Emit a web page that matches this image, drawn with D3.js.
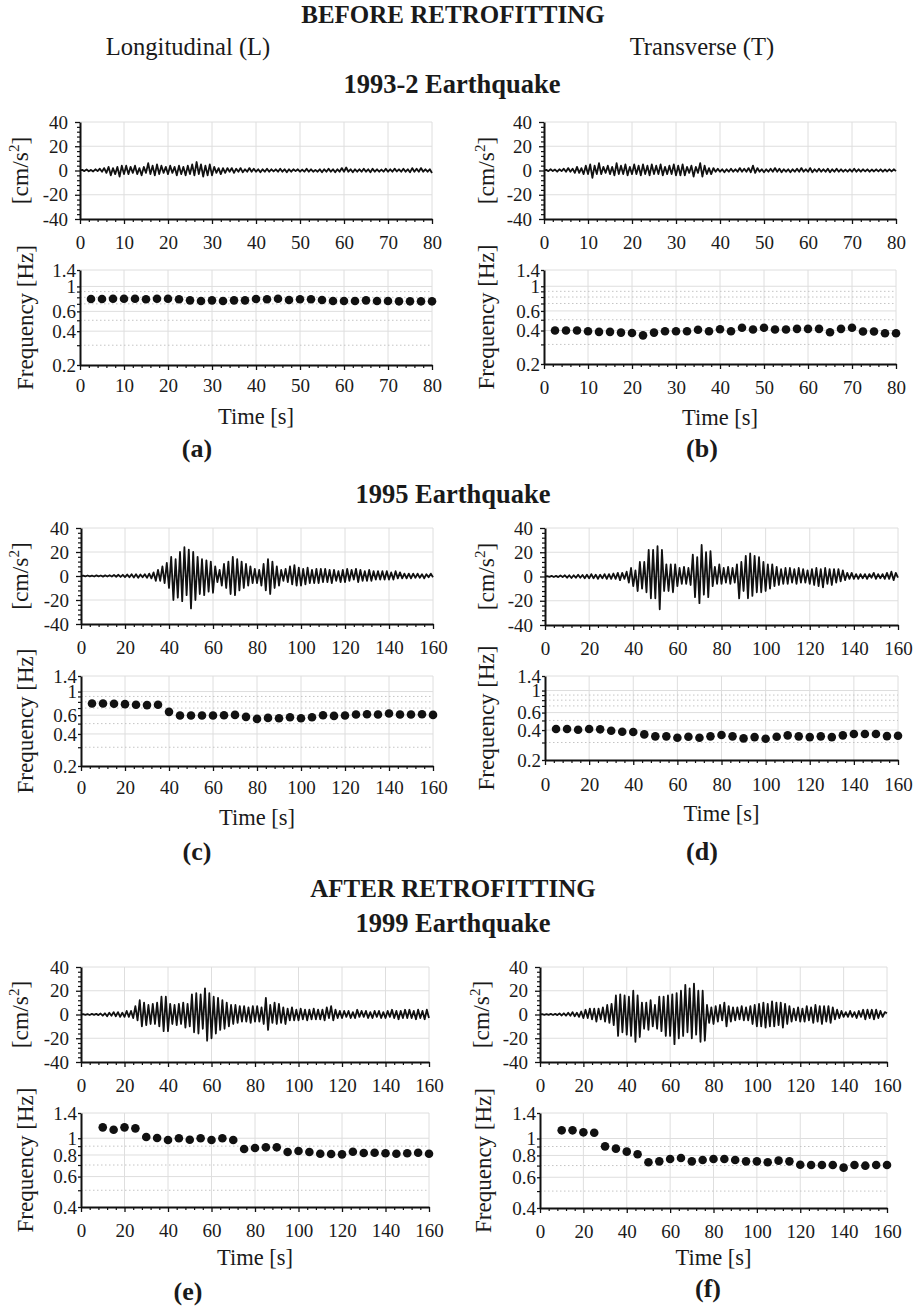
<!DOCTYPE html>
<html>
<head>
<meta charset="utf-8">
<script src="https://cdn.jsdelivr.net/npm/d3@7"></script>
<style>
body { margin: 0; background: #fff; }
text { font-family: "Liberation Serif", "Times New Roman", serif; fill: #1a1a1a; }
</style>
</head>
<body>
<script>
// ---- acceleration records (cm/s^2), one sample every accDt seconds ----
var accL_1993 = [0,0.5,-0.5,0.8,-0.6,0.5,-0.8,1,-0.5,1.5,-1,
  2,-2,3,-4,2,-3,3,-5,4,-3,
  4,-3,3,-2,4,-3,2,-4,3,-2,
  6,-3,4,-4,5,-3,4,-2,3,-3,
  4,-2,3,-4,4,-3,3,-4,4,-3,
  5,-4,7,-3,5,-5,4,-4,5,-4,
  3,-2,2,-3,2,-2,2,-1,2,-2,
  1.5,-1,2,-1.5,1,-1,2,-1,1.5,-1,
  1,-1.5,1,-1,1.5,-1,1,-0.8,1,-1,
  1.5,-1,1,-1.5,1,-1,1,-0.5,1,-1,
  0.8,-1,1.5,-1,1,-1,0.5,-1,1,-1.5,
  1,-1,1.5,-1,1,-1.5,1,-1,2,-1,
  2.5,-1,1,-1.5,1,-1,1,-1,1.5,-1,
  1,-1.5,1.5,-1,1,-1,0.8,-1,1.5,-1,
  1,-1,1.5,-0.8,1,-1,1.5,-1,1,-1.5,
  2,-1,1.5,-1,2,-1,1,-1,1,-2];
var accT_1993 = [0,0.5,-0.5,1,-0.5,0.8,-1,1,-0.5,1.5,-1,
  2,-1,1.5,-2,3,-2,2,-3,4,-3,
  5,-6,4,-3,6,-3,3,-2,4,-3,
  3,-4,6,-3,4,-3,5,-4,3,-3,
  5,-3,4,-4,5,-3,4,-4,5,-3,
  4,-3,5,-4,3,-3,4,-3,5,-4,
  4,-4,5,-4,3,-2,4,-5,3,-2,
  6,-5,4,-3,2,-3,2,-1,1.5,-1,
  1,-1.5,1,-1,1.5,-1,1,-1,2,-1,
  1.5,-1,2,-1.5,4,-2,2,-1,1,-1.5,
  1,-1,1.5,-1,2,-1,1.5,-1.5,1,-1,
  1,-1.5,1,-1,1.5,-1,2,-1,1,-1,
  2,-1.5,1,-1,1.5,-1,1,-1,1.5,-1.5,
  1,-1,1.5,-1,1,-1,0.8,-1,1,-1,
  1.5,-1,1,-1,1,-0.8,1,-1,0.8,-0.8,
  1,-0.8,1,-1,0.8,-0.8,1,-0.8,1,-0.5];
var accL_1995 = [0,0.3,-0.3,0.4,-0.3,0.3,-0.4,0.5,-0.3,0.4,
  -0.5,0.5,-0.4,0.6,-0.5,0.8,-0.6,1,-0.8,1,
  -1,1.2,-1,1.5,-1.2,1.5,-1.5,1.2,-1,1.5,
  -1.5,2,-2,3,-4,5,-4,8,-6,11,
  -10,16,-20,14,-18,20,-21,24,-16,22,
  -27,20,-20,16,-15,14,-16,13,-13,12,
  -14,8,-5,5,-8,10,-10,12,-15,16,
  -16,14,-12,12,-10,10,-8,8,-6,6,
  -6,5,-8,10,-12,14,-15,12,-10,8,
  -8,5,-4,6,-5,8,-7,9,-8,7,
  -8,6,-7,7,-6,5,-6,6,-6,6,
  -5,6,-5,5,-6,5,-4,4,-5,5,
  -5,6,-4,5,-3,6,-5,5,-4,4,
  -4,5,-4,4,-3,4,-3,4,-3,4,
  -3,3,-3,4,-2,3,-2,2,-2,2,
  -2,2,-1.5,2,-1.5,1.5,-2,1.5,-1,2,-1];
var accT_1995 = [0,0.3,-0.3,0.5,-0.4,0.5,-0.5,0.8,-0.5,1,
  -1,1,-1.2,1,-1,1.5,-1,1.2,-1.5,1.5,
  -1.5,2,-1.5,1.5,-2,1.5,-1.5,2,-2,2,
  -2,2.5,-2,3,-3,3,-2,4,-5,7,
  -8,5,-12,12,-10,12,-13,22,-18,22,
  -18,25,-27,22,-12,10,-12,10,-13,10,
  -8,7,-6,8,-6,7,-7,18,-17,16,
  -22,26,-15,20,-17,21,-8,8,-6,10,
  -6,7,-5,8,-6,7,-5,10,-18,12,
  -12,17,-18,19,-16,17,-13,16,-13,12,
  -12,10,-10,10,-8,8,-7,6,-6,7,
  -6,7,-5,6,-6,7,-5,6,-5,5,
  -6,6,-7,7,-8,6,-9,7,-6,6,
  -7,6,-5,6,-4,5,-3,3,-2,3,
  -2,2,-2,2,-1.5,2,-2,2,-1,3,
  -2,2,-1.5,2,-2,3,-2,4,-3,3,-1];
var accL_1999 = [0,0.3,-0.3,0.3,-0.4,0.5,-0.3,0.5,-0.5,0.8,
  -1,1,-1.5,1.5,-1,2,-1.5,2,-2,1.5,
  -2,3,-2,3,-3,7,-5,12,-10,10,
  -9,8,-8,9,-8,10,-10,15,-14,15,
  -14,9,-8,8,-9,9,-8,10,-11,9,
  -10,17,-15,18,-16,17,-12,22,-22,18,
  -20,15,-16,14,-13,12,-12,10,-10,8,
  -8,8,-7,7,-6,7,-6,6,-7,7,
  -6,7,-6,6,-8,14,-13,8,-7,10,
  -8,9,-7,6,-8,5,-5,6,-5,4,
  -5,5,-4,4,-5,4,-4,5,-4,4,
  -4,4,-5,6,-3,7,-5,4,-3,3,
  -3,3,-2,3,-3,2,-3,4,-2,3,
  -2,3,-3,2,-3,3,-2,3,-3,2,
  -3,3,-2,4,-3,3,-4,3,-3,4,
  -3,4,-3,3,-4,4,-3,3,-4,4,-3];
var accT_1999 = [0,0.3,-0.3,0.3,-0.3,0.5,-0.4,0.5,-0.5,0.8,
  -0.8,1,-1,1.5,-1,2,-1.5,1.5,-2,2.5,
  -3,4,-3,5,-4,5,-6,5,-4,6,
  -6,8,-7,9,-9,16,-18,17,-15,16,
  -17,15,-18,20,-23,16,-19,10,-12,10,
  -13,12,-10,8,-12,15,-14,15,-18,16,
  -18,17,-25,18,-20,20,-18,25,-15,22,
  -20,26,-17,20,-23,20,-22,8,-7,6,
  -8,7,-6,8,-5,10,-10,7,-6,6,
  -5,6,-4,7,-5,6,-5,7,-8,8,
  -10,9,-10,10,-11,9,-10,11,-10,10,
  -9,10,-11,9,-8,7,-6,5,-5,6,
  -6,5,-6,7,-5,6,-7,8,-6,7,
  -8,7,-6,7,-7,6,-4,4,-3,3,
  -2,2,-2,3,-2,2,-3,3,-2,4,
  -4,4,-3,4,-4,4,-3,3,-2,2,1];
var accDt = [0.5, 0.5, 1, 1, 1, 1];

// ---- identified frequencies (Hz) ----
var freqTime_1993 = [2.5,5,7.5,10,12.5,15,17.5,20,22.5,25,27.5,30,32.5,35,37.5,40,
  42.5,45,47.5,50,52.5,55,57.5,60,62.5,65,67.5,70,72.5,75,77.5,80];
var freqL_1993 = [0.773,0.773,0.778,0.778,0.778,0.768,0.778,0.778,0.768,0.752,0.742,0.752,0.742,0.752,0.752,0.773,
  0.768,0.778,0.757,0.768,0.768,0.757,0.742,0.742,0.742,0.752,0.742,0.742,0.737,0.737,0.737,0.737];
var freqT_1993 = [0.40,0.40,0.40,0.394,0.389,0.389,0.383,0.38,0.362,0.383,0.394,0.394,0.394,0.406,0.394,0.411,
  0.394,0.423,0.408,0.423,0.408,0.408,0.414,0.414,0.414,0.386,0.414,0.423,0.392,0.392,0.378,0.378];
var freqTime_1995 = [5,10,15,20,25,30,35,40,45,50,55,60,65,70,75,80,
  85,90,95,100,105,110,115,120,125,130,135,140,145,150,155,160];
var freqL_1995 = [0.773,0.773,0.768,0.762,0.751,0.746,0.751,0.645,0.596,0.596,0.596,0.596,0.600,0.604,0.579,0.554,
  0.566,0.562,0.574,0.562,0.574,0.600,0.591,0.596,0.609,0.613,0.609,0.622,0.609,0.609,0.613,0.604];
var freqT_1995 = [0.410,0.410,0.403,0.410,0.407,0.394,0.385,0.382,0.362,0.346,0.346,0.335,0.343,0.335,0.346,0.357,
  0.346,0.330,0.340,0.327,0.343,0.354,0.346,0.340,0.346,0.340,0.354,0.365,0.365,0.365,0.348,0.351];
var freqTime_1999 = [10,15,20,25,30,35,40,45,50,55,60,65,70,75,80,
  85,90,95,100,105,110,115,120,125,130,135,140,145,150,155,160];
var freqL_1999 = [1.156,1.121,1.156,1.141,1.016,1.003,0.977,0.999,0.981,0.999,0.977,0.999,0.977,0.866,0.878,
  0.886,0.886,0.832,0.843,0.832,0.814,0.810,0.807,0.836,0.821,0.825,0.818,0.814,0.818,0.825,0.814];
var freqT_1999 = [1.114,1.114,1.085,1.080,0.902,0.875,0.841,0.812,0.731,0.740,0.763,0.774,0.740,0.753,0.763,
  0.763,0.753,0.740,0.740,0.731,0.747,0.740,0.708,0.705,0.705,0.705,0.681,0.705,0.699,0.705,0.705];

// ---- axis ticks ----
var timeTicks80 = [0,10,20,30,40,50,60,70,80];
var timeTicks160 = [0,20,40,60,80,100,120,140,160];
var accTicks = [-40,-20,0,20,40];
var freqTicksBefore = [0.2,0.4,0.6,1,1.4];
var freqMinorBefore = [0.3,0.5,0.7,0.8,0.9];
var freqTicksAfter = [0.4,0.6,0.8,1,1.4];
var freqMinorAfter = [0.5,0.7,0.9];
var panelTags = ["(a)","(b)","(c)","(d)","(e)","(f)"];

var W = 920, H = 1312;
var svg = d3.select("body").append("svg")
    .attr("width", W)
    .attr("height", H);

//headings
function heading(txt, x, y, size, bold) {
    svg.append("text")
        .attr("x", x).attr("y", y)
        .attr("text-anchor", "middle")
        .attr("font-size", size)
        .attr("font-weight", bold ? "bold" : "normal")
        .text(txt);
}
heading("BEFORE RETROFITTING", 453, 23, 25, true);
heading("Longitudinal (L)", 188, 55, 24.6, false);
heading("Transverse (T)", 702, 55, 24.6, false);
heading("1993-2 Earthquake", 452, 93, 26.5, true);
heading("1995 Earthquake", 453, 503, 26.5, true);
heading("AFTER RETROFITTING", 453, 897, 25, true);
heading("1999 Earthquake", 453, 932, 26.5, true);

var panels = [
  {acc: accL_1993, dt: accDt[0], ft: freqTime_1993, fv: freqL_1993, xmax: 80, xt: timeTicks80, xminor: 2,
   fdom: [0.2,1.4], ftk: freqTicksBefore, fmin: freqMinorBefore},
  {acc: accT_1993, dt: accDt[1], ft: freqTime_1993, fv: freqT_1993, xmax: 80, xt: timeTicks80, xminor: 2,
   fdom: [0.2,1.4], ftk: freqTicksBefore, fmin: freqMinorBefore},
  {acc: accL_1995, dt: accDt[2], ft: freqTime_1995, fv: freqL_1995, xmax: 160, xt: timeTicks160, xminor: 4,
   fdom: [0.2,1.4], ftk: freqTicksBefore, fmin: freqMinorBefore},
  {acc: accT_1995, dt: accDt[3], ft: freqTime_1995, fv: freqT_1995, xmax: 160, xt: timeTicks160, xminor: 4,
   fdom: [0.2,1.4], ftk: freqTicksBefore, fmin: freqMinorBefore},
  {acc: accL_1999, dt: accDt[4], ft: freqTime_1999, fv: freqL_1999, xmax: 160, xt: timeTicks160, xminor: 4,
   fdom: [0.4,1.4], ftk: freqTicksAfter, fmin: freqMinorAfter},
  {acc: accT_1999, dt: accDt[5], ft: freqTime_1999, fv: freqT_1999, xmax: 160, xt: timeTicks160, xminor: 4,
   fdom: [0.4,1.4], ftk: freqTicksAfter, fmin: freqMinorAfter}
];

//where each panel sits on the page
var layout = [
  {ax: [80,432,122,219], fx: [80,432,270,365], accLab: 28, frLab: 33, fpad: 9, timeY: 424, tag: [197,457]},
  {ax: [544,896,122,219], fx: [544,896,270,364], accLab: 494, frLab: 494, fpad: 12, timeY: 425, tag: [702,457]},
  {ax: [81,433,528,624], fx: [81,433,676,766], accLab: 28, frLab: 33, fpad: 10, timeY: 825, tag: [197,860]},
  {ax: [545,898,528,625], fx: [545,898,676,760], accLab: 494, frLab: 494, fpad: 13, timeY: 821, tag: [702,860]},
  {ax: [81,429,967,1062], fx: [81,429,1113,1207], accLab: 28, frLab: 33, fpad: 12, timeY: 1265, tag: [188,1300]},
  {ax: [540,887,967,1062], fx: [540,887,1113,1208], accLab: 489, frLab: 491, fpad: 12, timeY: 1265, tag: [708,1297]}
];

function styleAxis(g, size) {
    g.attr("font-family", "Liberation Serif").attr("font-size", size);
    g.selectAll("text").attr("fill", "#1a1a1a");
    g.selectAll("line").attr("stroke", "#111").attr("stroke-width", 1.3);
    g.select(".domain").attr("stroke", "#111").attr("stroke-width", 2);
}
function minorAxis(g) {
    g.select(".domain").remove();
    g.selectAll("line").attr("stroke", "#111").attr("stroke-width", 1.2);
}

panels.forEach(function(p, k) {
    var L = layout[k];
    var g = svg.append("g");
    var minorX = d3.range(0, p.xmax + 0.001, p.xminor).filter(function(v) { return p.xt.indexOf(v) < 0; });

    // ----- acceleration -----
    var x = d3.scaleLinear().domain([0, p.xmax]).range([L.ax[0], L.ax[1]]);
    var y = d3.scaleLinear().domain([-40, 40]).range([L.ax[3], L.ax[2]]);

    g.selectAll(null).data(p.xt.slice(1)).enter().append("line")
        .attr("x1", x).attr("x2", x).attr("y1", y(-40)).attr("y2", y(40))
        .attr("stroke", "#dedede").attr("stroke-width", 1);
    g.selectAll(null).data(accTicks.slice(1)).enter().append("line")
        .attr("x1", x(0)).attr("x2", x(p.xmax)).attr("y1", y).attr("y2", y)
        .attr("stroke", "#dedede").attr("stroke-width", 1);

    var line = d3.line()
        .x(function(d, i) { return x(i * p.dt); })
        .y(function(d) { return y(d); });
    g.append("path")
        .attr("d", line(p.acc))
        .attr("fill", "none")
        .attr("stroke", "#111")
        .attr("stroke-width", 1.8)
        .attr("stroke-linejoin", "round");

    var accMinorY = d3.range(-40, 40.001, 4).filter(function(v) { return v % 20 !== 0; });
    g.append("g").attr("transform", "translate(0," + y(-40) + ")")
        .call(d3.axisBottom(x).tickValues(minorX).tickSize(3).tickFormat(""))
        .call(minorAxis);
    g.append("g").attr("transform", "translate(" + x(0) + ",0)")
        .call(d3.axisLeft(y).tickValues(accMinorY).tickSize(3).tickFormat(""))
        .call(minorAxis);
    g.append("g").attr("transform", "translate(0," + y(-40) + ")")
        .call(d3.axisBottom(x).tickValues(p.xt).tickSize(5).tickSizeOuter(0).tickPadding(12)
            .tickFormat(function(d) { return String(d); }))
        .call(styleAxis, 19);
    g.append("g").attr("transform", "translate(" + x(0) + ",0)")
        .call(d3.axisLeft(y).tickValues(accTicks).tickSize(5).tickSizeOuter(0).tickPadding(7)
            .tickFormat(function(d) { return String(d); }))
        .call(styleAxis, 19);

    var at = g.append("text")
        .attr("transform", "translate(" + L.accLab + "," + (L.ax[2] + L.ax[3]) / 2 + ") rotate(-90)")
        .attr("text-anchor", "middle")
        .attr("font-size", 23.5);
    at.append("tspan").text("[cm/s");
    at.append("tspan").attr("dy", -9).attr("font-size", 15).text("2");
    at.append("tspan").attr("dy", 9).text("]");

    // ----- frequency -----
    var fx = d3.scaleLinear().domain([0, p.xmax]).range([L.fx[0], L.fx[1]]);
    var fy = d3.scaleLog().domain(p.fdom).range([L.fx[3], L.fx[2]]);

    g.selectAll(null).data(p.xt.slice(1)).enter().append("line")
        .attr("x1", fx).attr("x2", fx).attr("y1", fy(p.fdom[0])).attr("y2", fy(p.fdom[1]))
        .attr("stroke", "#dedede").attr("stroke-width", 1);
    g.selectAll(null).data(p.ftk.slice(1)).enter().append("line")
        .attr("x1", fx(0)).attr("x2", fx(p.xmax)).attr("y1", fy).attr("y2", fy)
        .attr("stroke", "#dedede").attr("stroke-width", 1);
    g.selectAll(null).data(p.fmin).enter().append("line")
        .attr("x1", fx(0)).attr("x2", fx(p.xmax)).attr("y1", fy).attr("y2", fy)
        .attr("stroke", "#c4c4c4").attr("stroke-width", 1)
        .attr("stroke-dasharray", "1.5,2.5");

    g.selectAll(null).data(p.fv).enter().append("circle")
        .attr("cx", function(d, i) { return fx(p.ft[i]); })
        .attr("cy", function(d) { return fy(d); })
        .attr("r", 4.3)
        .attr("fill", "#111");

    g.append("g").attr("transform", "translate(0," + fy(p.fdom[0]) + ")")
        .call(d3.axisBottom(fx).tickValues(minorX).tickSize(3).tickFormat(""))
        .call(minorAxis);
    g.append("g").attr("transform", "translate(" + fx(0) + ",0)")
        .call(d3.axisLeft(fy).tickValues(p.fmin).tickSize(3).tickFormat(""))
        .call(minorAxis);
    g.append("g").attr("transform", "translate(0," + fy(p.fdom[0]) + ")")
        .call(d3.axisBottom(fx).tickValues(p.xt).tickSize(5).tickSizeOuter(0).tickPadding(L.fpad)
            .tickFormat(function(d) { return String(d); }))
        .call(styleAxis, 19);
    g.append("g").attr("transform", "translate(" + fx(0) + ",0)")
        .call(d3.axisLeft(fy).tickValues(p.ftk).tickSize(3).tickSizeOuter(0).tickPadding(1)
            .tickFormat(function(d) { return String(d); }))
        .call(styleAxis, 19);

    g.append("text")
        .attr("transform", "translate(" + L.frLab + "," + (L.fx[2] + L.fx[3]) / 2 + ") rotate(-90)")
        .attr("text-anchor", "middle")
        .attr("font-size", 23)
        .text("Frequency [Hz]");

    g.append("text")
        .attr("x", (L.fx[0] + L.fx[1]) / 2).attr("y", L.timeY)
        .attr("text-anchor", "middle")
        .attr("font-size", 22.5)
        .text("Time [s]");

    g.append("text")
        .attr("x", L.tag[0]).attr("y", L.tag[1])
        .attr("text-anchor", "middle")
        .attr("font-size", 26)
        .attr("font-weight", "bold")
        .text(panelTags[k]);
});
</script>
</body>
</html>
